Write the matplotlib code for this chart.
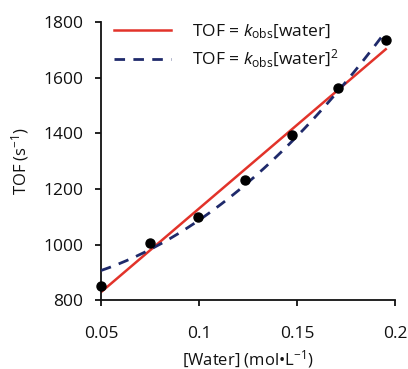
import numpy as np
import matplotlib
matplotlib.use("Agg")
import matplotlib.pyplot as plt

plt.rcParams['font.family'] = ['Open Sans', 'DejaVu Sans']
plt.rcParams['mathtext.fontset'] = 'custom'
plt.rcParams['mathtext.rm'] = 'Open Sans'
plt.rcParams['mathtext.it'] = 'Open Sans:italic'

water = [0.050, 0.075, 0.0993, 0.1235, 0.1476, 0.171, 0.1953]
tof = [850, 1006, 1100, 1232, 1394, 1564, 1735]
xticks = [0.05, 0.1, 0.15, 0.2]
xtick_labels = ["0.05", "0.1", "0.15", "0.2"]
yticks = [800, 1000, 1200, 1400, 1600, 1800]

x = np.array(water)
y = np.array(tof)
# linear fit
b1, a1 = np.polyfit(x, y, 1)
# fit y = a + b x^2
b2, a2 = np.polyfit(x**2, y, 1)
xs = np.linspace(x.min(), x.max(), 200)

fig = plt.figure(figsize=(4.08, 3.69), dpi=100)
ax = fig.add_axes([0.2475, 0.186, 0.7205, 0.754])

ax.plot(xs, a1 + b1 * xs, color='#e2332a', lw=1.8, label=r'TOF = $k_{\mathrm{obs}}$[water]', zorder=2)
ax.plot(xs, a2 + b2 * xs**2, color='#1f2a6b', lw=2.0, ls=(0, (3.8, 3.0)),
        label=r'TOF = $k_{\mathrm{obs}}$[water]$^{\mathrm{2}}$', zorder=3)
ax.plot(x, y, 'o', color='black', ms=6.5, zorder=4, clip_on=False)

ax.set_xlim(0.05, 0.2)
ax.set_ylim(800, 1800)
ax.set_xticks(xticks)
ax.set_xticklabels(xtick_labels)
ax.set_yticks(yticks)
for s in ['top', 'right']:
    ax.spines[s].set_visible(False)
for s in ['left', 'bottom']:
    ax.spines[s].set_linewidth(1.3)
    ax.spines[s].set_color('#111111')
ax.tick_params(axis='both', direction='out', length=4.5, width=1.3, labelsize=12.5,
               colors='#111111', labelcolor='#111111')
ax.tick_params(axis='x', pad=14)
ax.tick_params(axis='y', pad=8)
ax.set_xlabel('[Water] (mol\u2022L$^{\\mathrm{-1}}$)', fontsize=12, labelpad=4, color='#111111')
ax.set_ylabel('TOF (s$^{\\mathrm{-1}}$)', fontsize=12, labelpad=9, color='#111111')

leg = ax.legend(loc='upper left', frameon=False, fontsize=12.5, handlelength=3.3,
                handletextpad=1.2, borderaxespad=0.0, labelspacing=0.42,
                bbox_to_anchor=(0.02, 1.025))
for t in leg.get_texts():
    t.set_color('#111111')

fig.savefig('out.png', dpi=100)
